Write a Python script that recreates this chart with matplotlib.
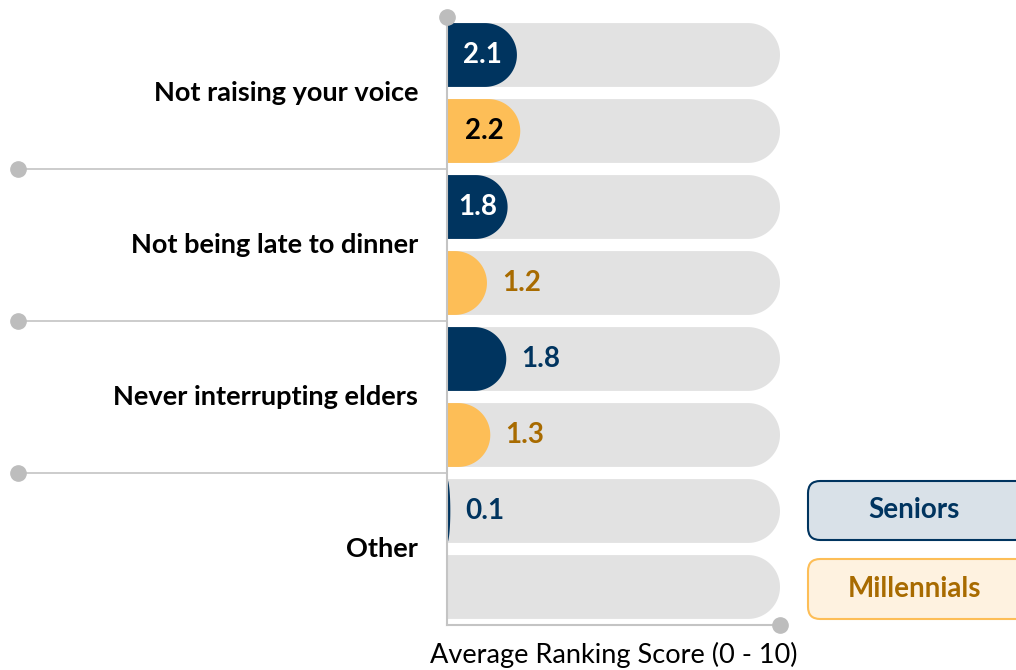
import numpy as np
import matplotlib
matplotlib.use("Agg")
import matplotlib.pyplot as plt
from matplotlib.patches import Polygon, FancyBboxPatch
from matplotlib.lines import Line2D

plt.rcParams['font.family'] = ['Lato', 'DejaVu Sans']

# ---- data ----
categories = ["Not raising your voice", "Not being late to dinner",
              "Never interrupting elders", "Other"]
series_names = ["Seniors", "Millennials"]
seniors = [2.1, 1.82, 1.78, 0.1]
millennials = [2.2, 1.2, 1.3, 0.03]
scale_max = 10
x_label = "Average Ranking Score (0 - 10)"

# ---- style ----
NAVY = "#00345F"
ORANGE = "#FDBE57"
GOLD = "#A86B00"
BG = "#E2E2E2"
GRID = "#C4C4C4"
DOT = "#BDBDBD"

W, H = 1016, 670
fig = plt.figure(figsize=(W / 100, H / 100), dpi=100)
ax = fig.add_axes([447 / W, (H - 625) / H, 333 / W, (625 - 17) / H])
ax.set_xlim(0, scale_max)
ax.set_ylim(7.5, -0.5)

bar_h = 0.84
n = len(categories)
pos_s = np.arange(n) * 2
pos_m = np.arange(n) * 2 + 1

# background bars and data bars via barh
bg = ax.barh(np.arange(2 * n), [scale_max] * (2 * n), height=bar_h, color=BG)
bs = ax.barh(pos_s, seniors, height=bar_h, color=NAVY)
bm = ax.barh(pos_m, millennials, height=bar_h, color=ORANGE)

fig.canvas.draw()
# pixel scales
px_per_x = ax.transData.transform((1, 0))[0] - ax.transData.transform((0, 0))[0]
px_per_y = abs(ax.transData.transform((0, 1))[1] - ax.transData.transform((0, 0))[1])
half_h_px = bar_h / 2 * px_per_y
r_full = half_h_px / px_per_x  # x-radius of a circular cap in data units


def rounded(rect, zorder):
    x0 = rect.get_x()
    w = rect.get_width()
    y0 = rect.get_y()
    h = rect.get_height()
    rx = min(r_full, w)
    x1 = x0 + w
    yc = y0 + h / 2
    t = np.linspace(-np.pi / 2, np.pi / 2, 60)
    arc = np.column_stack([x1 - rx + rx * np.cos(t), yc + (h / 2) * np.sin(t)])
    pts = np.vstack([[x0, y0], arc, [x0, y0 + h]])
    poly = Polygon(pts, closed=True, facecolor=rect.get_facecolor(),
                   edgecolor='none', zorder=zorder)
    rect.set_visible(False)
    ax.add_patch(poly)


for r in bg:
    rounded(r, 1)
for r in list(bs) + list(bm):
    rounded(r, 2)

# value labels
fs_val = 20
for bars, vals, in_col, out_col in [(bs, seniors, "white", NAVY),
                                   (bm, millennials, "black", GOLD)]:
    for rect, v in zip(bars, vals):
        if v < 0.05:
            continue
        yc = rect.get_y() + rect.get_height() / 2
        if v >= 1.8:
            ax.text(v / 2 + 0.02, yc, f"{v:.1f}", ha="center", va="center",
                    color=in_col, fontsize=fs_val, fontweight="bold", zorder=3)
        else:
            ax.text(v + 15 / px_per_x, yc, f"{v:.1f}", ha="left", va="center",
                    color=out_col, fontsize=fs_val, fontweight="bold", zorder=3)

# spines
for s in ["top", "right"]:
    ax.spines[s].set_visible(False)
for s in ["left", "bottom"]:
    ax.spines[s].set_color(GRID)
    ax.spines[s].set_linewidth(1.5)
ax.set_xticks([])
ax.set_yticks([])

# end dots
ax.plot([0], [-0.5], 'o', color=DOT, markersize=11, clip_on=False, zorder=5)
ax.plot([scale_max], [7.5], 'o', color=DOT, markersize=11, clip_on=False, zorder=5)

# separators
ytr = ax.get_yaxis_transform()
x_left = (18 - 447) / 333
for k in range(1, n):
    yy = 2 * k - 0.5
    ax.add_line(Line2D([x_left, 0], [yy, yy], transform=ytr, color=GRID,
                       lw=1.2, clip_on=False))
    ax.plot([x_left], [yy], 'o', transform=ytr, color=DOT, markersize=11,
            clip_on=False)

# category labels
for i, c in enumerate(categories):
    ax.text((418 - 447) / 333, 2 * i + 0.5, c, transform=ytr, ha="right",
            va="center", fontsize=19.5, fontweight="bold", color="black")

# x label
ax.text(0.5, -(655 - 625) / 608, x_label, transform=ax.transAxes, ha="center",
        va="center", fontsize=19.5, color="black")

# legend boxes
leg = [(series_names[0], "#D9E1E8", NAVY, NAVY, 481, 540),
       (series_names[1], "#FEF2E0", ORANGE, GOLD, 559, 619)]
for name, fc, ec, tc, yt, yb in leg:
    x0, x1 = 808, 1030
    box = FancyBboxPatch((x0 / W, (H - yb) / H), (x1 - x0) / W, (yb - yt) / H,
                         boxstyle="round,pad=0,rounding_size=0.012",
                         transform=fig.transFigure, facecolor=fc, edgecolor=ec,
                         lw=1.5, mutation_aspect=W / H)
    fig.patches.append(box)
    fig.text(914 / W, (H - (yt + yb) / 2) / H, name, ha="center", va="center",
             fontsize=20, fontweight="bold", color=tc)

fig.savefig("out.png", dpi=100)
